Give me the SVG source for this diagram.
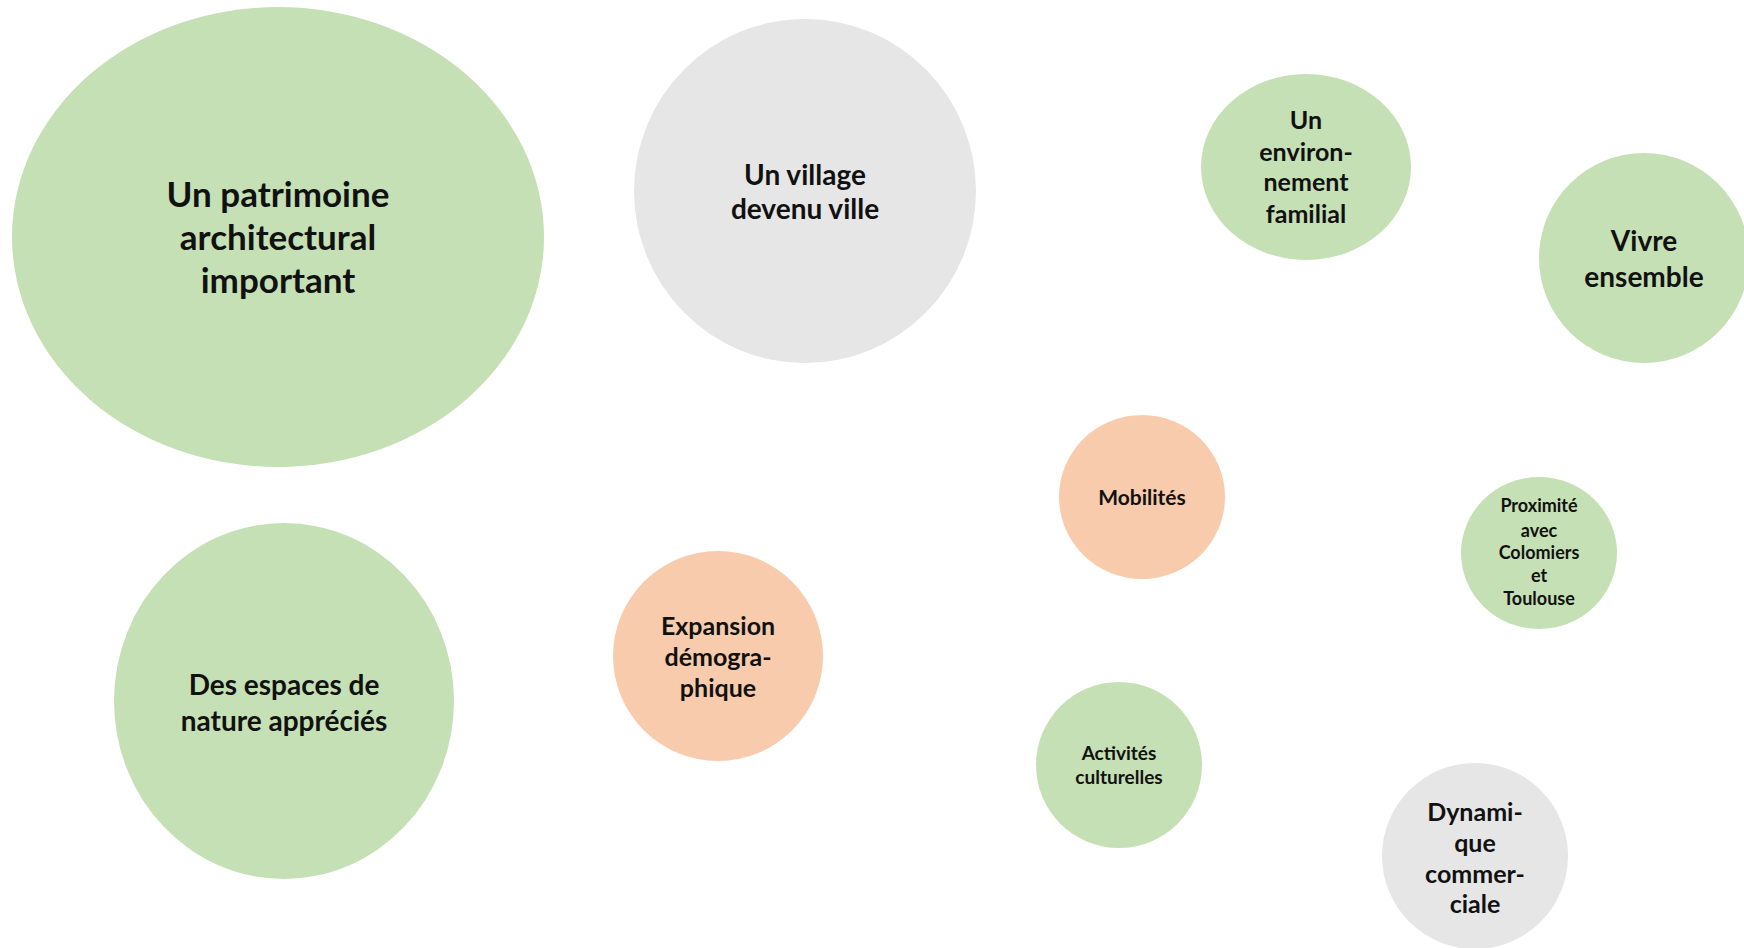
<svg xmlns="http://www.w3.org/2000/svg" width="1744" height="948" viewBox="0 0 1744 948">
<style>
.g{fill:#C5E0B4}
.y{fill:#E7E6E6}
.o{fill:#F8CBAD}
text{font-family:Lato,"Liberation Sans",sans-serif;font-weight:bold;fill:#111;text-anchor:middle}
</style>
<rect width="1744" height="948" fill="#fff"/>
<g id="n1"><ellipse class="g" cx="278" cy="237" rx="266" ry="230"/>
<text font-size="35"><tspan x="278" y="207">Un patrimoine</tspan><tspan x="278" y="250">architectural</tspan><tspan x="278" y="293">important</tspan></text></g>
<g id="n2"><ellipse class="y" cx="805" cy="191" rx="171" ry="172"/>
<text font-size="28"><tspan x="805" y="185">Un village</tspan><tspan x="805" y="219">devenu ville</tspan></text></g>
<g id="n3"><ellipse class="g" cx="1306" cy="167" rx="105" ry="93"/>
<text font-size="25"><tspan x="1306" y="129">Un</tspan><tspan x="1306" y="161">environ-</tspan><tspan x="1306" y="191">nement</tspan><tspan x="1306" y="223">familial</tspan></text></g>
<g id="n4"><ellipse class="g" cx="1644" cy="258" rx="105" ry="105"/>
<text font-size="28"><tspan x="1644" y="251">Vivre</tspan><tspan x="1644" y="287">ensemble</tspan></text></g>
<g id="n5"><ellipse class="o" cx="1142" cy="497" rx="83" ry="82"/>
<text font-size="21"><tspan x="1142" y="505">Mobilités</tspan></text></g>
<g id="n6"><ellipse class="g" cx="1539" cy="553" rx="78" ry="76"/>
<text font-size="18"><tspan x="1539" y="512">Proximité</tspan><tspan x="1539" y="537">avec</tspan><tspan x="1539" y="559">Colomiers</tspan><tspan x="1539" y="582">et</tspan><tspan x="1539" y="605">Toulouse</tspan></text></g>
<g id="n7"><ellipse class="g" cx="284" cy="701" rx="170" ry="178"/>
<text font-size="28"><tspan x="284" y="695">Des espaces de</tspan><tspan x="284" y="731">nature appréciés</tspan></text></g>
<g id="n8"><ellipse class="o" cx="718" cy="656" rx="105" ry="105"/>
<text font-size="25"><tspan x="718" y="635">Expansion</tspan><tspan x="718" y="666">démogra-</tspan><tspan x="718" y="697">phique</tspan></text></g>
<g id="n9"><ellipse class="g" cx="1119" cy="765" rx="83" ry="83"/>
<text font-size="19"><tspan x="1119" y="760">Activités</tspan><tspan x="1119" y="784">culturelles</tspan></text></g>
<g id="n10"><ellipse class="y" cx="1475" cy="856" rx="93" ry="93"/>
<text font-size="25"><tspan x="1475" y="821">Dynami-</tspan><tspan x="1475" y="852">que</tspan><tspan x="1475" y="883">commer-</tspan><tspan x="1475" y="913">ciale</tspan></text></g>
<g id="connectors"></g>
</svg>
